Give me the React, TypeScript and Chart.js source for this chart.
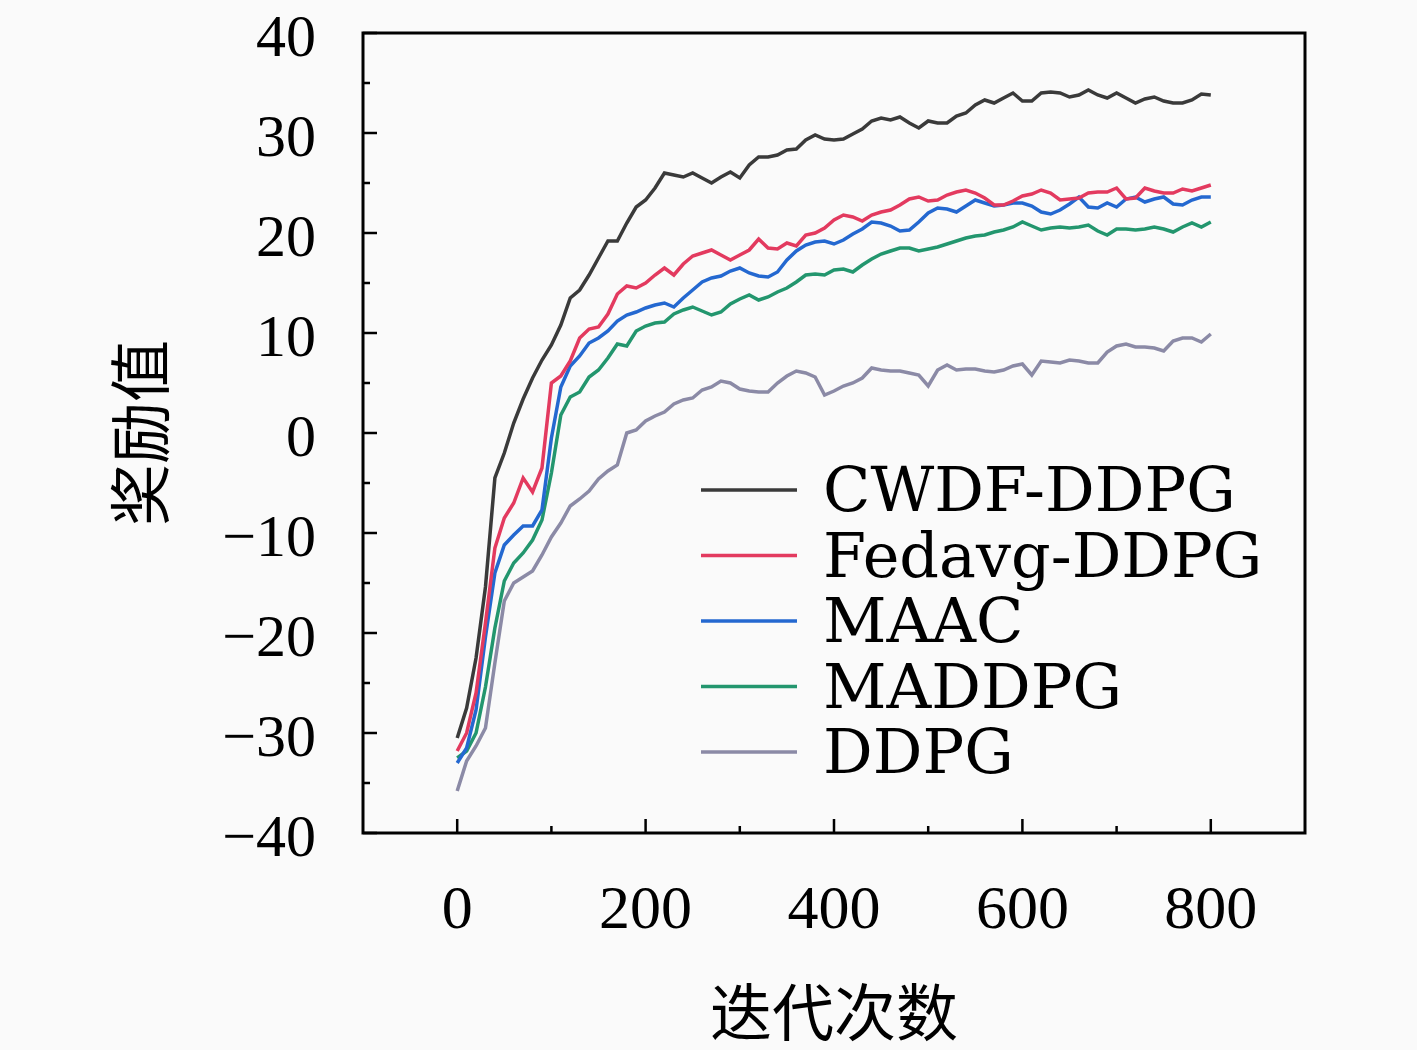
import React, { useEffect, useRef } from 'react';
import { Chart, registerables } from 'chart.js';

Chart.register(...registerables);

// 迭代次数 (x), one point every 10 iterations
const iterations = [
    0, 10, 20, 30, 40, 50, 60, 70, 80, 90,
    100, 110, 120, 130, 140, 150, 160, 170, 180, 190,
    200, 210, 220, 230, 240, 250, 260, 270, 280, 290,
    300, 310, 320, 330, 340, 350, 360, 370, 380, 390,
    400, 410, 420, 430, 440, 450, 460, 470, 480, 490,
    500, 510, 520, 530, 540, 550, 560, 570, 580, 590,
    600, 610, 620, 630, 640, 650, 660, 670, 680, 690,
    700, 710, 720, 730, 740, 750, 760, 770, 780, 790,
    800,
];

const cwdfDdpg = [
    -30.5, -27.5, -22.5, -15.4, -4.5, -2, 1, 3.4, 5.5, 7.3,
    8.8, 10.8, 13.5, 14.3, 15.8, 17.5, 19.2, 19.2, 21, 22.6,
    23.3, 24.5, 26, 25.8, 25.6, 26, 25.5, 25, 25.6, 26.1,
    25.5, 26.8, 27.6, 27.6, 27.8, 28.3, 28.4, 29.3, 29.8, 29.4,
    29.3, 29.4, 29.9, 30.4, 31.2, 31.5, 31.3, 31.6, 31, 30.5,
    31.2, 31, 31, 31.7, 32, 32.8, 33.3, 33, 33.5, 34,
    33.2, 33.2, 34, 34.1, 34, 33.6, 33.8, 34.3, 33.8, 33.5,
    34, 33.5, 33, 33.4, 33.6, 33.2, 33, 33, 33.3, 33.9,
    33.8,
];

const fedavgDdpg = [
    -31.8, -30, -26, -19, -11.5, -8.5, -7, -4.5, -5.9, -3.5,
    5, 5.7, 7.2, 9.5, 10.4, 10.6, 11.9, 13.9, 14.7, 14.5,
    15, 15.8, 16.5, 15.8, 16.9, 17.7, 18, 18.3, 17.8, 17.3,
    17.8, 18.3, 19.4, 18.5, 18.4, 19, 18.7, 19.8, 20, 20.5,
    21.3, 21.8, 21.6, 21.2, 21.8, 22.1, 22.3, 22.8, 23.4, 23.6,
    23.2, 23.3, 23.8, 24.1, 24.3, 24, 23.5, 22.8, 22.8, 23.2,
    23.7, 23.9, 24.3, 24, 23.3, 23.4, 23.5, 24, 24.1, 24.1,
    24.5, 23.4, 23.5, 24.5, 24.2, 24, 24, 24.4, 24.2, 24.5,
    24.8,
];

const maac = [
    -33, -31.5, -27.7, -20.4, -14, -11.2, -10.2, -9.3, -9.3, -7.7,
    -0.5, 4.6, 6.7, 7.7, 9, 9.5, 10.2, 11.2, 11.8, 12.1,
    12.5, 12.8, 13, 12.6, 13.5, 14.3, 15.1, 15.5, 15.7, 16.2,
    16.5, 16, 15.7, 15.6, 16.1, 17.3, 18.2, 18.8, 19.1, 19.2,
    18.9, 19.3, 19.9, 20.4, 21.1, 21, 20.7, 20.2, 20.3, 21.1,
    22, 22.5, 22.4, 22.1, 22.7, 23.3, 23, 22.7, 22.8, 23,
    23, 22.7, 22.1, 21.9, 22.3, 22.9, 23.6, 22.6, 22.5, 23,
    22.6, 23.4, 23.6, 23.1, 23.4, 23.6, 22.9, 22.8, 23.3, 23.6,
    23.6,
];

const maddpg = [
    -32.5, -31.8, -30, -25.4, -19.5, -14.8, -13, -12, -10.7, -8.7,
    -4, 1.8, 3.6, 4.1, 5.6, 6.3, 7.5, 8.9, 8.7, 10.2,
    10.7, 11, 11.1, 11.9, 12.3, 12.6, 12.2, 11.8, 12.1, 12.9,
    13.4, 13.8, 13.3, 13.6, 14.1, 14.5, 15.1, 15.8, 15.9, 15.8,
    16.3, 16.4, 16.1, 16.8, 17.4, 17.9, 18.2, 18.5, 18.5, 18.2,
    18.4, 18.6, 18.9, 19.2, 19.5, 19.7, 19.8, 20.1, 20.3, 20.6,
    21.1, 20.7, 20.3, 20.5, 20.6, 20.5, 20.6, 20.8, 20.2, 19.8,
    20.4, 20.4, 20.3, 20.4, 20.6, 20.4, 20.1, 20.6, 21, 20.6,
    21.1,
];

const ddpg = [
    -35.8, -32.8, -31.3, -29.5, -23, -16.8, -15, -14.4, -13.8, -12.2,
    -10.4, -9, -7.3, -6.6, -5.8, -4.6, -3.8, -3.2, 0, 0.3,
    1.2, 1.7, 2.1, 2.9, 3.3, 3.5, 4.3, 4.6, 5.2, 5,
    4.4, 4.2, 4.1, 4.1, 5, 5.7, 6.2, 6, 5.6, 3.8,
    4.2, 4.7, 5, 5.5, 6.5, 6.3, 6.2, 6.2, 6, 5.8,
    4.7, 6.3, 6.8, 6.3, 6.4, 6.4, 6.2, 6.1, 6.3, 6.7,
    6.9, 5.8, 7.2, 7.1, 7, 7.3, 7.2, 7, 7, 8.1,
    8.7, 8.9, 8.6, 8.6, 8.5, 8.2, 9.2, 9.5, 9.5, 9.1,
    9.9,
];

const seriesNames = ['CWDF-DDPG', 'Fedavg-DDPG', 'MAAC', 'MADDPG', 'DDPG'];
const seriesValues = [cwdfDdpg, fedavgDdpg, maac, maddpg, ddpg];
const seriesColors = ['#3a3a3a', '#e33a5f', '#2468d0', '#23966e', '#8b8aa6'];

const xTicks = [0, 200, 400, 600, 800];
const xMinorTicks = [100, 300, 500, 700];
const yTicks = [-40, -30, -20, -10, 0, 10, 20, 30, 40];
const yMinorTicks = [-35, -25, -15, -5, 5, 15, 25, 35];

const SERIF = "'Liberation Serif', serif";

// frame round the plot plus inward major/minor ticks
const frameTicks = {
    id: 'frameTicks',
    afterDatasetsDraw(chart: any) {
        const { ctx, chartArea, scales } = chart;
        const { left, right, top, bottom } = chartArea;
        ctx.save();
        ctx.strokeStyle = '#000';
        ctx.lineWidth = 2.5;
        ctx.beginPath();
        xTicks.forEach((v) => {
            const px = scales.x.getPixelForValue(v);
            ctx.moveTo(px, bottom);
            ctx.lineTo(px, bottom - 14);
        });
        xMinorTicks.forEach((v) => {
            const px = scales.x.getPixelForValue(v);
            ctx.moveTo(px, bottom);
            ctx.lineTo(px, bottom - 7);
        });
        yTicks.forEach((v) => {
            const py = scales.y.getPixelForValue(v);
            ctx.moveTo(left, py);
            ctx.lineTo(left + 14, py);
        });
        yMinorTicks.forEach((v) => {
            const py = scales.y.getPixelForValue(v);
            ctx.moveTo(left, py);
            ctx.lineTo(left + 7, py);
        });
        ctx.stroke();
        ctx.lineWidth = 3;
        ctx.strokeRect(left, top, right - left, bottom - top);
        ctx.restore();
    },
};

// legend sitting inside the plot, lower right
const insideLegend = {
    id: 'insideLegend',
    afterDraw(chart: any) {
        const { ctx, chartArea } = chart;
        const lineX0 = chartArea.left + 338;
        const lineX1 = chartArea.left + 434;
        const textX = chartArea.left + 460;
        ctx.save();
        ctx.font = "62px 'DejaVu Serif'";
        ctx.textBaseline = 'alphabetic';
        ctx.textAlign = 'left';
        chart.data.datasets.forEach((ds: any, i: number) => {
            const base = chartArea.top + 478 + i * 65.5;
            ctx.strokeStyle = ds.borderColor;
            ctx.lineWidth = 3.5;
            ctx.beginPath();
            ctx.moveTo(lineX0, base - 21);
            ctx.lineTo(lineX1, base - 21);
            ctx.stroke();
            ctx.fillStyle = '#000';
            ctx.fillText(ds.label, textX, base);
        });
        ctx.restore();
    },
};

const RewardChart: React.FC = () => {
    const chartRef = useRef<HTMLCanvasElement>(null);
    const chartInstance = useRef<Chart | null>(null);

    useEffect(() => {
        if (!chartRef.current) return;
        const ctx = chartRef.current.getContext('2d');
        if (!ctx) return;

        if (chartInstance.current) {
            chartInstance.current.destroy();
        }

        chartInstance.current = new Chart(ctx, {
            type: 'line',
            data: {
                datasets: seriesNames.map((name, s) => ({
                    label: name,
                    data: iterations.map((it, i) => ({ x: it, y: seriesValues[s][i] })),
                    borderColor: seriesColors[s],
                    backgroundColor: seriesColors[s],
                    borderWidth: 3.5,
                    pointRadius: 0,
                    tension: 0,
                    fill: false,
                })),
            },
            options: {
                animation: false,
                responsive: true,
                maintainAspectRatio: false,
                layout: { padding: { left: 103, right: 112, top: 33, bottom: 0 } },
                plugins: {
                    legend: { display: false },
                    tooltip: { enabled: false },
                },
                scales: {
                    x: {
                        type: 'linear',
                        min: -100,
                        max: 900,
                        grid: { display: false },
                        border: { display: false },
                        afterBuildTicks: (scale: any) => {
                            scale.ticks = xTicks.map((v) => ({ value: v }));
                        },
                        afterFit: (scale: any) => {
                            scale.height = 217;
                            scale.paddingLeft = 0;
                            scale.paddingRight = 0;
                        },
                        ticks: {
                            autoSkip: false,
                            maxRotation: 0,
                            padding: 34,
                            color: '#000',
                            font: { family: SERIF, size: 62 },
                        },
                        title: {
                            display: true,
                            text: '迭代次数',
                            color: '#000',
                            padding: 0,
                            font: { family: "'Noto Sans CJK SC', sans-serif", size: 62 },
                        },
                    },
                    y: {
                        type: 'linear',
                        min: -40,
                        max: 40,
                        grid: { display: false },
                        border: { display: false },
                        afterBuildTicks: (scale: any) => {
                            scale.ticks = yTicks.map((v) => ({ value: v }));
                        },
                        afterFit: (scale: any) => {
                            scale.width = 260;
                            scale.paddingTop = 0;
                            scale.paddingBottom = 0;
                        },
                        ticks: {
                            autoSkip: false,
                            padding: 39,
                            labelOffset: 7,
                            color: '#000',
                            font: { family: SERIF, size: 60 },
                            callback: (v: any) => (v < 0 ? '\u2212' + Math.abs(v) : String(v)),
                        },
                        title: {
                            display: true,
                            text: '奖励值',
                            color: '#000',
                            padding: 0,
                            font: { family: "'Noto Sans CJK SC', sans-serif", size: 62 },
                        },
                    },
                },
            },
            plugins: [frameTicks, insideLegend],
        });

        return () => {
            if (chartInstance.current) {
                chartInstance.current.destroy();
                chartInstance.current = null;
            }
        };
    }, []);

    return (
        <div style={{ position: 'absolute', left: 0, top: 0, width: '1417px', height: '1050px', background: '#fafafa' }}>
            <canvas ref={chartRef}></canvas>
        </div>
    );
};

export default function App() {
    return <RewardChart />;
}
